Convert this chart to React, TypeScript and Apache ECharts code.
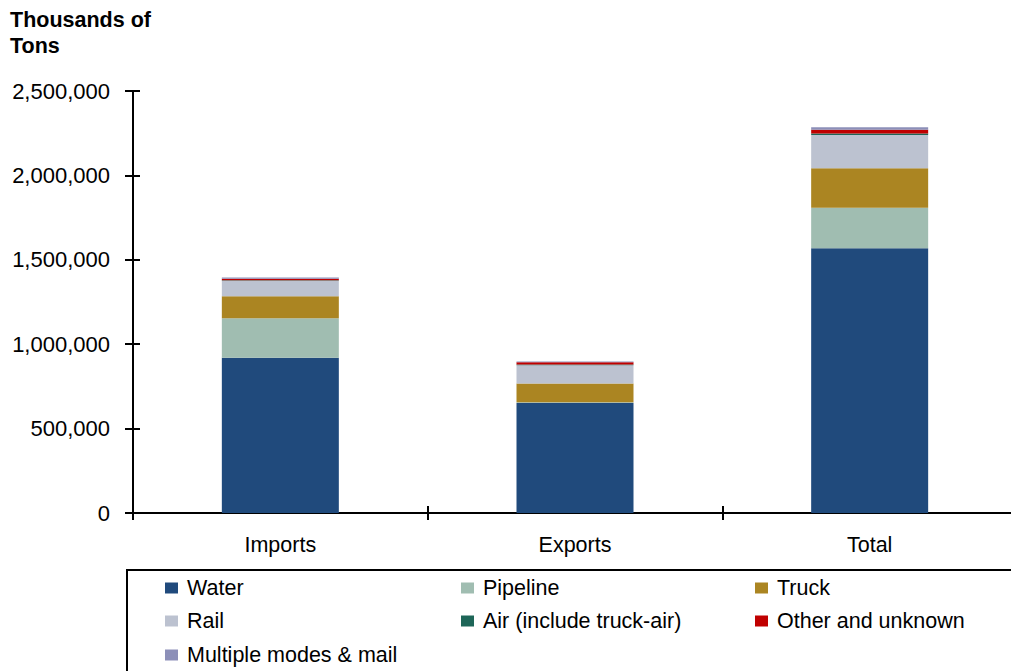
import React, { useEffect, useRef } from "react";
import * as echarts from "echarts";

const categories = ["Imports", "Exports", "Total"];
const seriesNames = [
  "Water",
  "Pipeline",
  "Truck",
  "Rail",
  "Air (include truck-air)",
  "Other and unknown",
  "Multiple modes & mail",
];
const water = [920000, 652000, 1568000];
const pipeline = [234000, 4000, 241000];
const truck = [130000, 111000, 234000];
const rail = [92000, 108000, 197000];
const air = [3000, 4000, 8000];
const other = [8000, 14000, 22000];
const multiple = [8000, 5000, 15000];
const yTicks = [0, 500000, 1000000, 1500000, 2000000, 2500000];

const values = [water, pipeline, truck, rail, air, other, multiple];
const colors = ["#204A7C", "#A0BDB1", "#AB8522", "#BCC2D0", "#1E6658", "#C00000", "#8C8FB8"];

const FONT = "'Liberation Sans', Arial, sans-serif";

export default function App() {
  const ref = useRef<HTMLDivElement>(null);
  useEffect(() => {
    if (!ref.current) return;
    const chart = echarts.init(ref.current, undefined, { renderer: "svg" });
    const fmt = (v: number) => v.toLocaleString("en-US");
    const colLeft = [165, 461, 755];
    const rowTop = [577, 610, 644];
    const legends = seriesNames.map((name, i) => ({
      orient: "horizontal" as const,
      left: colLeft[i % 3],
      top: rowTop[Math.floor(i / 3)],
      padding: 0,
      itemWidth: 13,
      itemHeight: 11,
      icon: "rect",
      data: [name],
      textStyle: {
        fontFamily: FONT,
        fontSize: 21.5,
        color: "#000",
        lineHeight: 22,
        padding: [0, 0, 0, 4],
      },
      selectedMode: false as const,
    }));
    chart.setOption({
      animation: false,
      backgroundColor: "#fff",
      grid: { left: 133, top: 91, width: 884, height: 422, containLabel: false },
      graphic: [
        {
          type: "rect",
          shape: { x: 127, y: 570, width: 920, height: 120 },
          style: { fill: "none", stroke: "#000", lineWidth: 2 },
          z: 0,
        },
        {
          type: "text",
          left: 10,
          top: 7,
          style: {
            text: "Thousands of\nTons",
            font: `bold 21.5px ${FONT}`,
            lineHeight: 26,
            fill: "#000",
          },
        },
      ],
      legend: legends,
      xAxis: [
        {
          type: "category",
          data: categories,
          axisLine: { lineStyle: { color: "#000", width: 2 } },
          axisTick: { show: true, length: 7, lineStyle: { color: "#000", width: 2 } },
          axisLabel: { fontFamily: FONT, fontSize: 21.5, color: "#000", margin: 21 },
        },
        {
          type: "category",
          data: categories,
          position: "bottom",
          axisLine: { show: false },
          axisTick: { show: true, inside: true, length: 7, lineStyle: { color: "#000", width: 2 } },
          axisLabel: { show: false },
        },
      ],
      yAxis: [
        {
          type: "value",
          min: yTicks[0],
          max: yTicks[yTicks.length - 1],
          interval: 500000,
          splitLine: { show: false },
          axisLine: { show: true, lineStyle: { color: "#000", width: 2 } },
          axisTick: { show: true, length: 8, lineStyle: { color: "#000", width: 2 } },
          axisLabel: { fontFamily: FONT, fontSize: 22, color: "#000", margin: 23, formatter: fmt },
        },
        {
          type: "value",
          min: yTicks[0],
          max: yTicks[yTicks.length - 1],
          interval: 500000,
          position: "left",
          splitLine: { show: false },
          axisLine: { show: false },
          axisTick: { show: true, inside: true, length: 7, lineStyle: { color: "#000", width: 2 } },
          axisLabel: { show: false },
        },
      ],
      series: seriesNames.map((name, i) => ({
        name,
        type: "bar",
        stack: "total",
        barWidth: 117,
        data: values[i],
        itemStyle: { color: colors[i] },
      })),
    });
    return () => chart.dispose();
  }, []);
  return (
    <div style={{ position: "absolute", left: 0, top: 0, width: 1011, height: 671, overflow: "hidden" }}>
      <div ref={ref} style={{ width: 1040, height: 671 }} />
    </div>
  );
}
